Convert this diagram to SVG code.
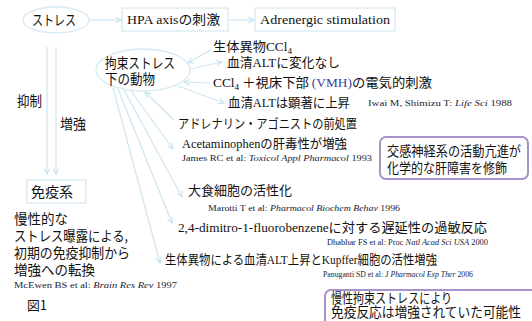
<svg xmlns="http://www.w3.org/2000/svg" width="532" height="321" viewBox="0 0 532 321">
<defs>
<marker id="ah" viewBox="0 0 10 10" refX="9" refY="5" markerWidth="7" markerHeight="7" orient="auto" markerUnits="userSpaceOnUse">
<path d="M1,1 L9,5 L1,9" fill="none" stroke="#c9e2ee" stroke-width="1.6"/>
</marker>
<style>
.jp{font-family:"Noto Sans CJK JP","Noto Sans",sans-serif;fill:#111;}
.se{font-family:"Liberation Serif","Noto Sans CJK JP",serif;}
.it{font-style:italic;}
.cite{font-family:"Liberation Serif","Noto Sans CJK JP",serif;font-size:9px;fill:#1a1a33;}
.con{stroke:#cfe5f0;stroke-width:1.2;fill:none;marker-end:url(#ah);}
.box{fill:#fff;stroke:#d6ebf4;stroke-width:1.3;}
.note{fill:#fff;stroke:#a793c9;stroke-width:2;}
</style>
</defs>
<rect width="532" height="321" fill="#fff"/>

<g id="connectors">
<line class="con" x1="89" y1="20" x2="121" y2="20"/>
<line class="con" x1="229" y1="20" x2="254" y2="20"/>
<line class="con" x1="47" y1="47" x2="47" y2="174"/>
<line class="con" x1="56" y1="47" x2="56" y2="174"/>
<line class="con" x1="212" y1="49" x2="188" y2="63"/>
<line class="con" x1="190" y1="69" x2="222" y2="62"/>
<line class="con" x1="210" y1="83" x2="184" y2="82"/>
<line class="con" x1="178" y1="86" x2="224" y2="103"/>
<line class="con" x1="174" y1="120" x2="145" y2="92"/>
<line class="con" x1="131" y1="91" x2="173" y2="149"/>
<line class="con" x1="124" y1="90" x2="182" y2="197"/>
<line class="con" x1="118" y1="89" x2="172" y2="223"/>
<line class="con" x1="113" y1="88" x2="160" y2="263"/>
</g>

<g id="stress">
<ellipse cx="56" cy="20" rx="33" ry="13" class="box"/>
<text class="jp" x="32" y="25" font-size="14" textLength="44" lengthAdjust="spacingAndGlyphs">ストレス</text>
</g>

<g id="hpa">
<rect x="122" y="8" width="106" height="23" class="box"/>
<text class="jp" x="127" y="24" font-size="13" textLength="93" lengthAdjust="spacingAndGlyphs"><tspan class="se">HPA axis</tspan>の刺激</text>
</g>

<g id="adrenergic">
<rect x="255" y="8" width="140" height="23" class="box"/>
<text class="jp se" x="260" y="24" font-size="13" textLength="130" lengthAdjust="spacingAndGlyphs">Adrenergic stimulation</text>
</g>

<g id="restraint">
<ellipse cx="143" cy="70" rx="47" ry="21" class="box"/>
<text class="jp" x="105" y="68" font-size="14" textLength="70" lengthAdjust="spacingAndGlyphs">拘束ストレス</text>
<text class="jp" x="105" y="84" font-size="14" textLength="50" lengthAdjust="spacingAndGlyphs">下の動物</text>
</g>

<g id="immune">
<rect x="27" y="180" width="59" height="23" class="box"/>
<text class="jp" x="31" y="197" font-size="14" textLength="42" lengthAdjust="spacingAndGlyphs">免疫系</text>
</g>

<g id="labels">
<text class="jp" x="17" y="106" font-size="14" textLength="25" lengthAdjust="spacingAndGlyphs">抑制</text>
<text class="jp" x="60" y="129" font-size="14" textLength="26" lengthAdjust="spacingAndGlyphs">増強</text>
<text class="jp" x="14" y="224" font-size="14" textLength="54" lengthAdjust="spacingAndGlyphs">慢性的な</text>
<text class="jp" x="14" y="241" font-size="14" textLength="114" lengthAdjust="spacingAndGlyphs">ストレス曝露による,</text>
<text class="jp" x="14" y="258" font-size="14" textLength="116" lengthAdjust="spacingAndGlyphs">初期の免疫抑制から</text>
<text class="jp" x="14" y="275" font-size="14" textLength="81" lengthAdjust="spacingAndGlyphs">増強への転換</text>
<text class="cite" x="14" y="288" textLength="163" lengthAdjust="spacingAndGlyphs">McEwen BS et al: <tspan class="it">Brain Res Rev</tspan> 1997</text>
<text class="jp" x="27" y="310" font-size="13" textLength="20" lengthAdjust="spacingAndGlyphs">図1</text>
</g>

<g id="ccl4">
<text class="jp" x="213" y="51" font-size="13" textLength="79" lengthAdjust="spacingAndGlyphs">生体異物<tspan class="se">CCl</tspan><tspan class="se" font-size="9" dy="3">4</tspan></text>
</g>
<g id="alt-nochange">
<text class="jp" x="227" y="67" font-size="13" textLength="113" lengthAdjust="spacingAndGlyphs">血清<tspan class="se">ALT</tspan>に変化なし</text>
</g>
<g id="vmh">
<text class="jp" x="213" y="87" font-size="13" textLength="219" lengthAdjust="spacingAndGlyphs"><tspan class="se">CCl</tspan><tspan class="se" font-size="9" dy="3">4</tspan><tspan dy="-3"> ＋視床下部 </tspan><tspan class="se" fill="#3b3b9c">(VMH)</tspan>の電気的刺激</text>
</g>
<g id="alt-up">
<text class="jp" x="228" y="107" font-size="13" textLength="122" lengthAdjust="spacingAndGlyphs">血清<tspan class="se">ALT</tspan>は顕著に上昇</text>
<text class="cite" x="368" y="106" textLength="144" lengthAdjust="spacingAndGlyphs">Iwai M, Shimizu T: <tspan class="it">Life Sci</tspan> 1988</text>
</g>
<g id="adrenaline">
<text class="jp" x="178" y="128" font-size="13" textLength="179" lengthAdjust="spacingAndGlyphs">アドレナリン・アゴニストの前処置</text>
</g>
<g id="acetaminophen">
<text class="jp" x="182" y="148" font-size="13" textLength="165" lengthAdjust="spacingAndGlyphs"><tspan class="se">Acetaminophen</tspan>の肝毒性が増強</text>
<text class="cite" x="182" y="161" textLength="190" lengthAdjust="spacingAndGlyphs">James RC et al: <tspan class="it">Toxicol Appl Pharmacol</tspan> 1993</text>
</g>
<g id="note1">
<rect x="380" y="137" width="148" height="42" rx="6" class="note"/>
<text class="jp" x="387" y="155.5" font-size="13.5" textLength="134" lengthAdjust="spacingAndGlyphs">交感神経系の活動亢進が</text>
<text class="jp" x="387" y="172.5" font-size="13.5" textLength="120" lengthAdjust="spacingAndGlyphs">化学的な肝障害を修飾</text>
</g>
<g id="macrophage">
<text class="jp" x="188" y="195" font-size="13" textLength="104" lengthAdjust="spacingAndGlyphs">大食細胞の活性化</text>
<text class="cite" x="208" y="211" textLength="192" lengthAdjust="spacingAndGlyphs">Marotti T et al: <tspan class="it">Pharmacol Biochem Behav</tspan> 1996</text>
</g>
<g id="dnfb">
<text class="jp" x="178" y="232" font-size="13" textLength="309" lengthAdjust="spacingAndGlyphs"><tspan class="se">2,4-dimitro-1-fluorobenzene</tspan>に対する遅延性の過敏反応</text>
<text class="cite" x="327" y="245" textLength="161" lengthAdjust="spacingAndGlyphs">Dhabhar FS et al: Proc <tspan class="it">Natl Acad Sci USA</tspan> 2000</text>
</g>
<g id="kupffer">
<text class="jp" x="165" y="264" font-size="13" textLength="272" lengthAdjust="spacingAndGlyphs">生体異物による血清<tspan class="se">ALT</tspan>上昇と<tspan class="se">Kupffer</tspan>細胞の活性増強</text>
<text class="cite" x="323" y="277" textLength="150" lengthAdjust="spacingAndGlyphs">Panuganti SD et al: <tspan class="it">J Pharmacol Exp Ther</tspan> 2006</text>
</g>
<g id="note2">
<rect x="325" y="290" width="220" height="40" rx="6" class="note"/>
<text class="jp" x="331" y="303" font-size="13.5" textLength="121" lengthAdjust="spacingAndGlyphs">慢性拘束ストレスにより</text>
<text class="jp" x="331" y="317" font-size="13.5" textLength="190" lengthAdjust="spacingAndGlyphs">免疫反応は増強されていた可能性</text>
</g>
</svg>
